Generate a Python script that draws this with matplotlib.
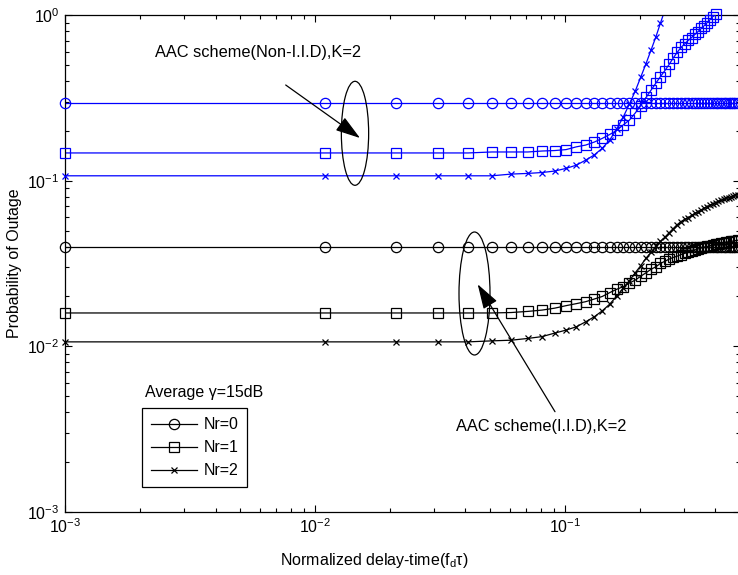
import numpy as np
import matplotlib
matplotlib.use("Agg")
import matplotlib.pyplot as plt
from matplotlib.patches import Ellipse
from matplotlib.ticker import LogLocator, NullFormatter

plt.rcParams['font.family'] = ['Liberation Sans', 'DejaVu Sans']
plt.rcParams['mathtext.fontset'] = 'custom'
plt.rcParams['mathtext.rm'] = 'Liberation Sans'
plt.rcParams['mathtext.it'] = 'Liberation Sans:italic'
plt.rcParams['axes.unicode_minus'] = False

# ---------------- data ----------------
x = [0.001, 0.011, 0.021, 0.031, 0.041, 0.051, 0.061, 0.071, 0.081, 0.091,
     0.101, 0.111, 0.121, 0.131, 0.141, 0.151, 0.161, 0.171, 0.181, 0.191,
     0.201, 0.211, 0.221, 0.231, 0.241, 0.251, 0.261, 0.271, 0.281, 0.291,
     0.301, 0.311, 0.321, 0.331, 0.341, 0.351, 0.361, 0.371, 0.381, 0.391,
     0.401, 0.411, 0.421, 0.431, 0.441, 0.451, 0.461, 0.471, 0.481, 0.491]

# Non-I.I.D (blue)
nonid_nr0 = [0.294, 0.294, 0.294, 0.294, 0.294, 0.294, 0.294, 0.294, 0.294, 0.294,
             0.294, 0.294, 0.294, 0.294, 0.294, 0.294, 0.294, 0.294, 0.294, 0.294,
             0.294, 0.294, 0.294, 0.294, 0.294, 0.294, 0.294, 0.294, 0.294, 0.294,
             0.294, 0.294, 0.294, 0.294, 0.294, 0.294, 0.294, 0.294, 0.294, 0.294,
             0.294, 0.294, 0.294, 0.294, 0.294, 0.294, 0.294, 0.294, 0.294, 0.294]
nonid_nr1 = [0.147, 0.147, 0.147, 0.147, 0.147, 0.149, 0.149, 0.149, 0.151, 0.152,
             0.154, 0.160, 0.164, 0.171, 0.180, 0.190, 0.201, 0.217, 0.232, 0.256,
             0.284, 0.318, 0.352, 0.388, 0.425, 0.462, 0.503, 0.550, 0.594, 0.637,
             0.668, 0.702, 0.731, 0.763, 0.795, 0.829, 0.864, 0.901, 0.939, 0.979,
             1.014, 1.057]
nonid_nr2 = [0.107, 0.107, 0.107, 0.107, 0.107, 0.107, 0.1096, 0.1106, 0.112, 0.1143,
             0.1186, 0.124, 0.133, 0.143, 0.157, 0.176, 0.205, 0.242, 0.290, 0.347,
             0.422, 0.509, 0.615, 0.737, 0.895, 1.07]

# I.I.D (black)
iid_nr0 = [0.040, 0.040, 0.040, 0.040, 0.040, 0.040, 0.040, 0.040, 0.040, 0.040,
           0.040, 0.040, 0.040, 0.040, 0.040, 0.040, 0.040, 0.040, 0.040, 0.040,
           0.040, 0.040, 0.040, 0.040, 0.040, 0.040, 0.040, 0.040, 0.040, 0.040,
           0.040, 0.040, 0.040, 0.040, 0.040, 0.040, 0.040, 0.040, 0.040, 0.040,
           0.040, 0.040, 0.040, 0.040, 0.040, 0.040, 0.040, 0.040, 0.040, 0.040]
iid_nr1 = [0.0159, 0.0159, 0.0159, 0.0159, 0.0159, 0.0159, 0.0160, 0.01625, 0.01655, 0.0170,
           0.0176, 0.0181, 0.0186, 0.0193, 0.0200, 0.0211, 0.0221, 0.0229, 0.0241, 0.0251,
           0.0265, 0.0278, 0.0292, 0.0302, 0.0317, 0.0326, 0.0336, 0.0344, 0.0350, 0.0358,
           0.0364, 0.0371, 0.0377, 0.0382, 0.0387, 0.0393, 0.0397, 0.0401, 0.0405, 0.0408,
           0.0412, 0.0415, 0.0419, 0.0422, 0.0425, 0.0428, 0.0430, 0.0432, 0.0435, 0.0437]
iid_nr2 = [0.01064, 0.01064, 0.01064, 0.01064, 0.01064, 0.01079, 0.01089, 0.01116, 0.01145, 0.01202,
           0.01253, 0.01312, 0.01406, 0.01508, 0.01638, 0.01797, 0.02009, 0.02245, 0.02493, 0.02779,
           0.03070, 0.03409, 0.03690, 0.04011, 0.04299, 0.04561, 0.04849, 0.05136, 0.05423, 0.05662,
           0.05835, 0.05985, 0.06170, 0.06350, 0.06507, 0.06675, 0.06835, 0.06982, 0.07129, 0.07260,
           0.07382, 0.07486, 0.07591, 0.07697, 0.07805, 0.07894, 0.07985, 0.08077, 0.08149, 0.08224]

legend_labels = ['Nr=0', 'Nr=1', 'Nr=2']
markers = ['o', 's', 'x']

# ---------------- figure ----------------
W, H = 738, 575
fig = plt.figure(figsize=(W / 100, H / 100), dpi=100)
ax = fig.add_axes([65 / W, 1 - 512 / H, 674.7 / W, 497 / H])
ax.set_xscale('log')
ax.set_yscale('log')

FS = 11.5
FS_ANN = 11.8
lw = 0.9
msz = {'o': 7.4, 's': 7.6, 'x': 3.8}


def draw(xs, ys, marker, color):
    xs = np.asarray(xs[:len(ys)])
    ys = np.asarray(ys)
    ax.plot(xs, ys, '-', color=color, lw=lw, zorder=2)
    keep = ys <= 1.02
    ax.plot(xs[keep], ys[keep], linestyle='none', marker=marker, color=color,
            markerfacecolor='none', markersize=msz[marker], markeredgewidth=0.9,
            clip_on=False, zorder=3)


blue = '#0000ff'
for ys, m in zip([nonid_nr0, nonid_nr1, nonid_nr2], markers):
    draw(x, ys, m, blue)
for ys, m in zip([iid_nr0, iid_nr1, iid_nr2], markers):
    draw(x, ys, m, 'black')

ax.set_xlim(1e-3, 0.5)
ax.set_ylim(1e-3, 1e0)

ax.xaxis.set_major_locator(LogLocator(base=10, numticks=10))
ax.xaxis.set_minor_locator(LogLocator(base=10, subs=np.arange(2, 10), numticks=20))
ax.yaxis.set_major_locator(LogLocator(base=10, numticks=10))
ax.yaxis.set_minor_locator(LogLocator(base=10, subs=np.arange(2, 10), numticks=20))
ax.xaxis.set_minor_formatter(NullFormatter())
ax.yaxis.set_minor_formatter(NullFormatter())

ax.tick_params(which='both', direction='in', top=True, right=True, labelsize=FS,
               width=0.8, color='black')
ax.tick_params(which='major', length=5, pad=4)
ax.tick_params(which='minor', length=3)
for s in ax.spines.values():
    s.set_linewidth(0.9)

ax.set_xlabel(r'Normalized delay-time(f$_\mathregular{d}$τ)', fontsize=FS)
ax.xaxis.set_label_coords((374 - 65) / 674.7, -(551 - 512) / 497)
ax.set_ylabel('Probability of Outage', fontsize=FS)
ax.yaxis.set_label_coords(-(65 - 22) / 674.7, 0.5)

# legend (I.I.D black style)
handles = [plt.Line2D([], [], color='black', lw=lw, marker=m, markerfacecolor='none',
                      markersize=msz[m], markeredgewidth=0.9) for m in markers]
leg = ax.legend(handles, legend_labels, loc='lower left',
                bbox_to_anchor=((142 - 65) / 674.7, (512 - 487) / 497),
                fancybox=False, edgecolor='black', framealpha=1, fontsize=FS,
                handlelength=2.9, handletextpad=0.4, borderpad=0.55,
                labelspacing=0.5, borderaxespad=0)
leg.get_frame().set_linewidth(0.9)

# annotations
ax.text((145 - 65) / 674.7, (512 - 393) / 497, 'Average γ=15dB', transform=ax.transAxes,
        fontsize=FS, va='center', ha='left')
ax.text((155 - 65) / 674.7, (512 - 53) / 497, 'AAC scheme(Non-I.I.D),K=2',
        transform=ax.transAxes, fontsize=FS_ANN, va='center', ha='left')
ax.text((456 - 65) / 674.7, (512 - 426) / 497, 'AAC scheme(I.I.D),K=2',
        transform=ax.transAxes, fontsize=FS_ANN, va='center', ha='left')

ax.add_patch(Ellipse(((355 - 65) / 674.7, (512 - 133.3) / 497), 27.3 / 674.7, 104 / 497,
                     transform=ax.transAxes, fill=False, edgecolor='black', lw=0.9, zorder=4))
ax.add_patch(Ellipse(((474.5 - 65) / 674.7, (512 - 293.5) / 497), 31 / 674.7, 123 / 497,
                     transform=ax.transAxes, fill=False, edgecolor='black', lw=0.9, zorder=4))

arrow_kw = dict(arrowstyle='-|>,head_length=1.1,head_width=0.35', color='black', lw=0.9,
                mutation_scale=14, shrinkA=0, shrinkB=0)
ax.annotate('', xy=((360 - 65) / 674.7, (512 - 138) / 497), xycoords='axes fraction',
            xytext=((285.7 - 65) / 674.7, (512 - 85) / 497), textcoords='axes fraction',
            arrowprops=arrow_kw, zorder=5)
ax.annotate('', xy=((477.7 - 65) / 674.7, (512 - 284.3) / 497), xycoords='axes fraction',
            xytext=((555 - 65) / 674.7, (512 - 411.7) / 497), textcoords='axes fraction',
            arrowprops=arrow_kw, zorder=5)

fig.savefig('out.png', dpi=100, facecolor='white')
